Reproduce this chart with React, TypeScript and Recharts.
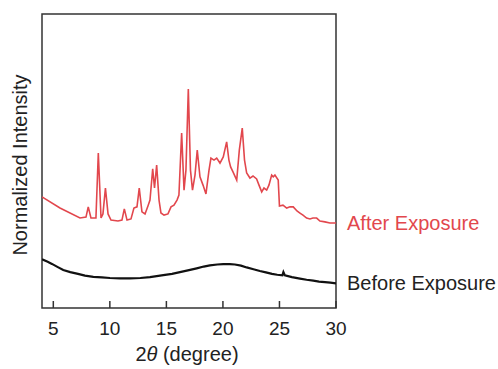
import React from 'react';
import { LineChart, Line, XAxis, YAxis, ReferenceArea, Customized } from 'recharts';

// 2θ positions and normalized intensity
const afterTheta = [
  4.0, 5.59, 7.36, 7.89, 8.09, 8.33, 8.77, 8.98, 9.22, 9.39, 9.61, 9.84, 10.1, 10.72, 11.07, 11.28,
  11.52, 11.87, 12.13, 12.4, 12.6, 12.84, 13.11, 13.37, 13.55, 13.79, 13.95, 14.14, 14.35, 14.52,
  14.79, 15.14, 15.41, 15.67, 15.94, 16.11, 16.35, 16.56, 16.73, 16.94, 17.13, 17.31, 17.53, 17.73,
  17.97, 18.24, 18.5, 18.77, 18.94, 19.21, 19.45, 19.74, 20.03, 20.33, 20.53, 20.68, 20.89, 21.22,
  21.45, 21.71, 21.91, 22.1, 22.39, 22.66, 22.98, 23.19, 23.43, 23.63, 23.87, 24.07, 24.31, 24.45,
  24.6, 24.89, 25.0, 25.31, 25.64, 25.93, 26.22, 26.55, 26.81, 27.08, 27.4, 27.7, 27.96, 28.29,
  28.58, 29.02, 29.46, 30.0,
];
const afterIntensity = [
  37.8, 34.0, 30.6, 30.9, 34.4, 30.6, 30.6, 52.7, 30.6, 32.0, 40.8, 32.0, 29.9, 29.6, 29.9, 33.7,
  29.9, 30.3, 34.0, 34.4, 40.8, 32.7, 32.0, 34.7, 36.7, 47.3, 40.8, 48.6, 36.7, 32.3,
  31.6, 32.0, 34.4, 35.0, 36.7, 38.4, 59.5, 40.1, 46.9, 74.5, 46.9, 40.1, 45.2, 53.7,
  44.6, 41.8, 38.8, 46.9, 51.0, 50.3, 51.0, 49.3, 51.4, 56.5, 50.3, 48.0, 46.3, 43.5,
  53.7, 61.2, 50.3, 45.9, 44.2, 44.9, 43.9, 41.8, 39.5, 40.8, 40.1, 41.8, 45.2, 44.6,
  45.2, 43.5, 34.7, 35.0, 34.0, 34.4, 34.4, 33.0, 32.3, 31.6, 30.6, 30.3, 30.6, 30.6,
  29.6, 29.3, 28.9, 28.9,
];

const beforeTheta = [
  4.0, 4.5, 4.88, 5.4, 5.88, 6.5, 7.18, 7.8, 8.54, 9.3, 10.01, 10.9, 11.78, 12.7, 13.55, 14.73,
  15.5, 16.2, 16.9, 17.68, 18.3, 18.85, 19.5, 20.03, 20.6, 21.06, 21.6, 22.1, 22.7, 23.27, 23.8,
  24.34, 24.8, 25.26, 25.35, 25.48, 26.1, 26.81, 27.4, 27.99, 28.5, 29.02, 29.5, 30.0,
];
const beforeIntensity = [
  16.6, 15.7, 15.0, 13.9, 12.9, 12.2, 11.6, 11.0, 10.6, 10.4, 10.2, 10.1, 10.1, 10.2, 10.5, 11.2,
  11.6, 12.2, 12.8, 13.5, 14.1, 14.5, 14.8, 14.9, 14.9, 14.8, 14.4, 13.8, 13.2, 12.6, 12.1,
  11.6, 11.3, 11.1, 12.2, 11.1, 10.5, 10.0, 9.6, 9.3, 9.0, 8.8, 8.6, 8.4,
];

const xTicks = [5, 10, 15, 20, 25, 30];
const seriesNames = ['After Exposure', 'Before Exposure'];

const afterData = afterTheta.map((t, i) => ({ t, v: afterIntensity[i] }));
const beforeData = beforeTheta.map((t, i) => ({ t, v: beforeIntensity[i] }));

const FONT = '"Liberation Sans", Arial, Helvetica, sans-serif';
const RED = '#e2474d';
const INK = '#222';

const BottomTick = (props: any) => {
  const { x, y, payload } = props;
  return (
    <g>
      <line x1={x} y1={y} x2={x} y2={y - 7} stroke="#333" strokeWidth={1.5} />
      <text x={x} y={y + 27} textAnchor="middle" fontSize={19} fontFamily={FONT} fill={INK}>
        {payload.value}
      </text>
    </g>
  );
};

const endLabel = (count: number, name: string, color: string) => (props: any) => {
  const { x, y, index } = props;
  if (index !== count - 1) return null;
  return (
    <text x={x + 11} y={y + 7} fontSize={20} fontFamily={FONT} fill={color}>
      {name}
    </text>
  );
};

const AxisTitles = () => (
  <g fontFamily={FONT} fill={INK}>
    <text x={27} y={165} fontSize={20} textAnchor="middle" transform="rotate(-90, 27, 165)">
      Normalized Intensity
    </text>
    <text x={187} y={361} fontSize={20} textAnchor="middle">
      2<tspan fontStyle="italic">θ</tspan> (degree)
    </text>
  </g>
);

export default function App() {
  return (
    <div style={{ position: 'absolute', left: 0, top: 0, background: '#fff' }}>
      <LineChart width={498} height={369} margin={{ top: 14, right: 162, left: 42, bottom: 31 }}>
        <XAxis
          type="number"
          dataKey="t"
          domain={[4, 30]}
          ticks={xTicks}
          interval={0}
          allowDataOverflow
          height={30}
          axisLine={false}
          tickLine={false}
          tickSize={0}
          tickMargin={0}
          tick={BottomTick}
        />
        <YAxis type="number" dataKey="v" domain={[0, 100]} hide width={0} />
        <ReferenceArea x1={4} x2={30} y1={0} y2={100} fill="none" stroke="#333" strokeWidth={1.5} />
        <Line
          data={afterData}
          dataKey="v"
          type="linear"
          stroke={RED}
          strokeWidth={1.6}
          dot={false}
          isAnimationActive={false}
          label={endLabel(afterData.length, seriesNames[0], RED)}
        />
        <Line
          data={beforeData}
          dataKey="v"
          type="linear"
          stroke="#111"
          strokeWidth={2.2}
          dot={false}
          isAnimationActive={false}
          label={endLabel(beforeData.length, seriesNames[1], INK)}
        />
        <Customized component={AxisTitles} />
      </LineChart>
    </div>
  );
}
